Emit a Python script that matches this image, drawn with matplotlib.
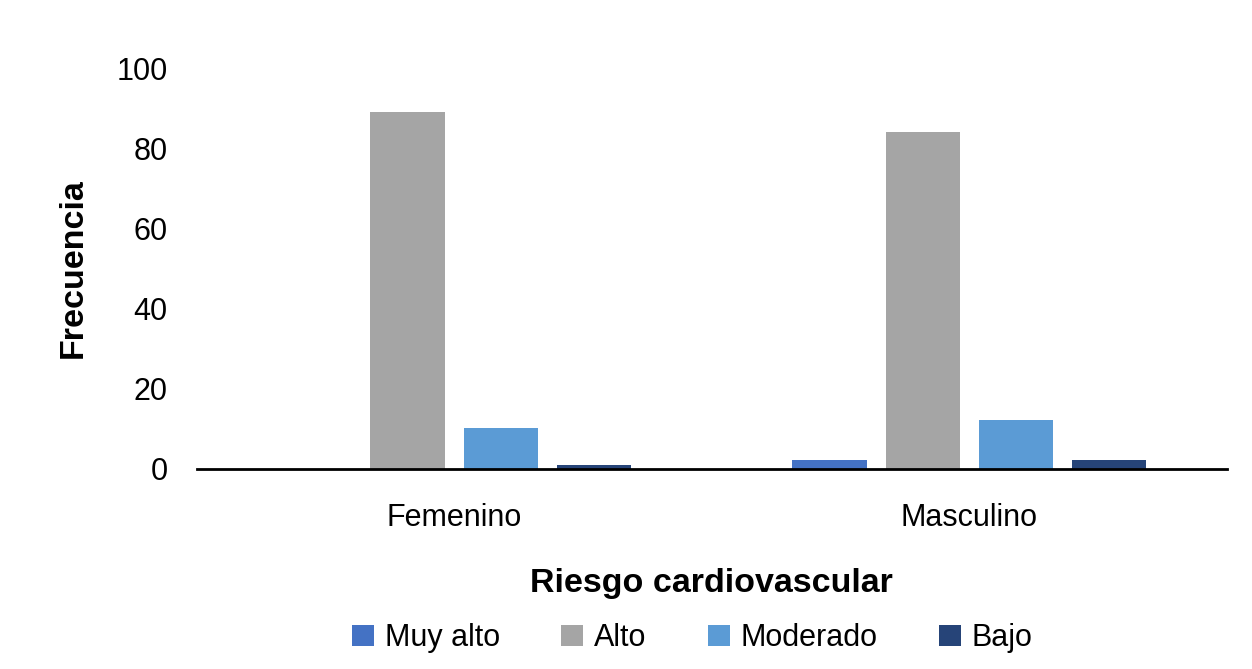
import numpy as np
import matplotlib
matplotlib.use("Agg")
import matplotlib.pyplot as plt

plt.rcParams["font.family"] = ["Liberation Sans", "DejaVu Sans"]

categories = ["Femenino", "Masculino"]
series_names = ["Muy alto", "Alto", "Moderado", "Bajo"]
series_values = {
    "Muy alto": [0, 2],
    "Alto": [89, 84],
    "Moderado": [10, 12],
    "Bajo": [1, 2],
}
colors = ["#4472C4", "#A5A5A5", "#5B9BD5", "#264478"]
y_ticks = [0, 20, 40, 60, 80, 100]

fig = plt.figure(figsize=(12.52, 6.69), dpi=100)
ax = fig.add_axes([0.157, 0.2997, 0.823, 0.598])

x = np.arange(len(categories))
width = 0.144
step = 0.181
for i, name in enumerate(series_names):
    offset = (i - 1.5) * step
    ax.bar(x + offset, series_values[name], width, color=colors[i], label=name,
           edgecolor="none", zorder=2)

ax.set_xlim(-0.5, 1.5)
ax.set_ylim(0, 100)
ax.set_yticks(y_ticks)
ax.set_xticks(x)
ax.set_xticklabels(categories)
ax.tick_params(axis="both", length=0, labelsize=22)
ax.tick_params(axis="x", pad=25)
ax.tick_params(axis="y", pad=21)

for side in ["top", "right", "left"]:
    ax.spines[side].set_visible(False)
ax.spines["bottom"].set_linewidth(2)
ax.spines["bottom"].set_color("black")
ax.spines["bottom"].set_zorder(3)

ax.set_ylabel("Frecuencia", fontsize=24.5, fontweight="bold", labelpad=20)
ax.set_xlabel("Riesgo cardiovascular", fontsize=24.5, fontweight="bold", labelpad=25)

handles, labels = ax.get_legend_handles_labels()
fig.legend(handles, labels, loc="center", bbox_to_anchor=(0.553, 0.046), ncol=4,
           frameon=False, fontsize=22, handlelength=0.72, handleheight=0.72,
           columnspacing=2.0, handletextpad=0.36, borderpad=0)

fig.savefig("out.png", dpi=100)
